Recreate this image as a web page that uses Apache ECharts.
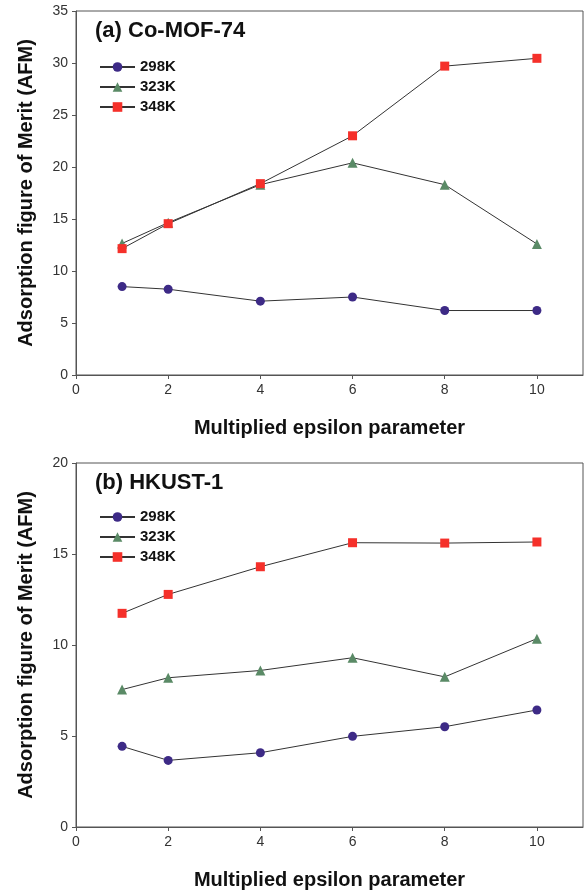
<!DOCTYPE html>
<html>
<head>
<meta charset="utf-8">
<script src="https://cdn.jsdelivr.net/npm/echarts@6/dist/echarts.min.js"></script>
<style>
  html, body { margin: 0; padding: 0; background: #fff; }
  #chart { width: 584px; height: 892px; }
</style>
</head>
<body>
<div id="chart"></div>
<script>
// multiplied epsilon values (x)
const epsilon = [1, 2, 4, 6, 8, 10]
const seriesNames = ['298K', '323K', '348K']

// (a) Co-MOF-74
const mof298 = [8.5, 8.25, 7.1, 7.5, 6.2, 6.2]
const mof323 = [12.65, 14.65, 18.3, 20.4, 18.3, 12.6]
const mof348 = [12.15, 14.55, 18.4, 23.0, 29.7, 30.45]

// (b) HKUST-1
const hk298 = [4.43, 3.66, 4.08, 4.98, 5.51, 6.43]
const hk323 = [7.55, 8.2, 8.6, 9.3, 8.25, 10.35]
const hk348 = [11.74, 12.78, 14.3, 15.62, 15.6, 15.66]

const font = 'Liberation Sans, Arial, sans-serif'
const markers = ['circle', 'triangle', 'rect']
const colors = ['#3d2a86', '#5a8a66', '#f5302a']

const toPairs = arr => arr.map((v, i) => [epsilon[i], v])

function makeSeries (idx, datasets) {
  return datasets.map((d, i) => ({
    name: seriesNames[i],
    type: 'line',
    xAxisIndex: idx,
    yAxisIndex: idx,
    data: toPairs(d),
    symbol: markers[i],
    symbolSize: i === 1 ? 10 : 9,
    lineStyle: { color: '#333', width: 1 },
    itemStyle: { color: colors[i] },
    emphasis: { disabled: true },
    animation: false
  }))
}

function xAxis (idx) {
  return {
    type: 'value',
    gridIndex: idx,
    min: 0,
    max: 11,
    interval: 2,
    name: 'Multiplied epsilon parameter',
    nameLocation: 'middle',
    nameGap: 43,
    nameTextStyle: { fontFamily: font, fontWeight: 'bold', fontSize: 20, color: '#111' },
    axisLine: { show: true, lineStyle: { color: '#555' } },
    axisTick: { show: true, length: 4, lineStyle: { color: '#555' } },
    axisLabel: { fontFamily: font, fontSize: 14, color: '#333', margin: 8, showMaxLabel: false },
    splitLine: { show: false }
  }
}

function yAxis (idx, max) {
  return {
    type: 'value',
    gridIndex: idx,
    min: 0,
    max: max,
    interval: 5,
    name: 'Adsorption figure of Merit (AFM)',
    nameLocation: 'middle',
    nameGap: 40,
    nameTextStyle: { fontFamily: font, fontWeight: 'bold', fontSize: 20, color: '#111' },
    axisLine: { show: true, lineStyle: { color: '#555' } },
    axisTick: { show: true, length: 4, lineStyle: { color: '#555' } },
    axisLabel: { fontFamily: font, fontSize: 14, color: '#333', margin: 8 },
    splitLine: { show: false }
  }
}

function legend (top) {
  return {
    left: 94,
    top: top,
    orient: 'vertical',
    itemWidth: 35,
    itemHeight: 12,
    itemGap: 4,
    selectedMode: false,
    data: seriesNames,
    textStyle: { fontFamily: font, fontWeight: 'bold', fontSize: 15, color: '#111', lineHeight: 16 }
  }
}

const chart = echarts.init(document.getElementById('chart'))
chart.setOption({
  animation: false,
  title: [
    { text: '(a) Co-MOF-74', left: 90, top: 15, textStyle: { fontFamily: font, fontWeight: 'bold', fontSize: 22, color: '#111' } },
    { text: '(b) HKUST-1', left: 90, top: 467, textStyle: { fontFamily: font, fontWeight: 'bold', fontSize: 22, color: '#111' } }
  ],
  legend: [legend(54), legend(504)],
  grid: [
    { left: 76, right: 1, top: 11, height: 364, show: true, borderColor: '#555', borderWidth: 1 },
    { left: 76, right: 1, top: 463, height: 364, show: true, borderColor: '#555', borderWidth: 1 }
  ],
  xAxis: [xAxis(0), xAxis(1)],
  yAxis: [yAxis(0, 35), yAxis(1, 20)],
  series: makeSeries(0, [mof298, mof323, mof348]).concat(makeSeries(1, [hk298, hk323, hk348]))
})
</script>
</body>
</html>
